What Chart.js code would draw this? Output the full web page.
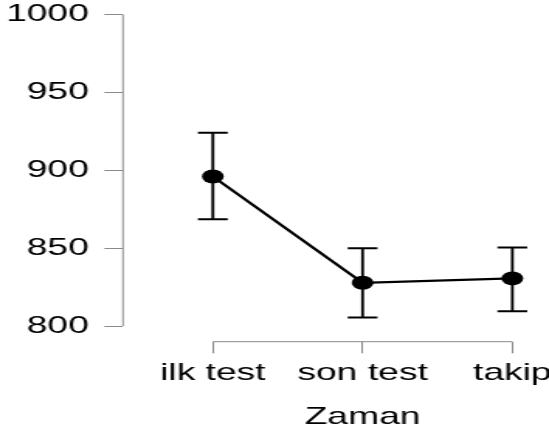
<!DOCTYPE html>
<html>
<head>
<meta charset="utf-8">
<script src="https://cdn.jsdelivr.net/npm/chart.js@4/dist/chart.umd.min.js"></script>
<style>
  html, body { margin: 0; padding: 0; background: #fff; }
</style>
</head>
<body>
<!-- the reference is a horizontally stretched plot: draw narrow, show wide -->
<canvas id="c" width="354" height="436" style="display:block;width:549px;height:436px"></canvas>
<script>
// Veri
const categories = ['ilk test', 'son test', 'takip'];
const means = [896.0, 827.8, 830.6];
const upper = [924.0, 849.9, 850.5];
const lower = [868.5, 805.6, 809.6];
const yTicks = [800, 850, 900, 950, 1000];

const FONT = { family: "'Liberation Sans', Arial, sans-serif", size: 24 };
const AXIS_GREY = '#8a8a8a';
const OVERHANG = 34.3; // the original plot is cropped on the right

// x ekseni tuvalin sag kenarindan tasar, baslik 'son test' altinda ortalanir
const overhang = {
  id: 'overhang',
  afterLayout(chart) {
    const x = chart.scales.x;
    x.right = chart.width + OVERHANG;
    x.width = x.right - x.left;
    x.configure();
  }
};

// R tarzi eksen cizgileri: sadece ilk ve son tick arasinda
const rAxes = {
  id: 'rAxes',
  afterDraw(chart) {
    const { ctx, scales: { x, y } } = chart;
    ctx.save();
    ctx.strokeStyle = AXIS_GREY;
    ctx.lineWidth = 1;
    ctx.beginPath();
    ctx.moveTo(y.right, y.getPixelForValue(yTicks[0]));
    ctx.lineTo(y.right, y.getPixelForValue(yTicks[yTicks.length - 1]));
    ctx.moveTo(x.getPixelForValue(0), x.top);
    ctx.lineTo(x.getPixelForValue(categories.length - 1), x.top);
    ctx.stroke();
    ctx.restore();
  }
};

// hata cubuklari: her kategori icin iki noktali dikey cizgi, uclar 'line' noktasi
const errorSets = categories.map((c, i) => ({
  data: [{ x: i, y: lower[i] }, { x: i, y: upper[i] }],
  borderColor: '#000',
  borderWidth: 1.8,
  pointStyle: 'line',
  pointRadius: 9.6,
  pointBorderWidth: 2,
  pointBorderColor: '#000',
  showLine: true
}));

new Chart(document.getElementById('c').getContext('2d'), {
  type: 'scatter',
  data: {
    datasets: [
      {
        data: means.map((m, i) => ({ x: i, y: m })),
        borderColor: '#000',
        borderWidth: 2.2,
        showLine: true,
        pointRadius: 7,
        pointBackgroundColor: '#000',
        pointBorderColor: '#000',
        pointBorderWidth: 0
      },
      ...errorSets
    ]
  },
  options: {
    responsive: false,
    animation: false,
    events: [],
    layout: { autoPadding: false, padding: { top: 14.3, left: 0, right: 0, bottom: 0 } },
    plugins: { legend: { display: false }, tooltip: { enabled: false } },
    scales: {
      x: {
        type: 'linear',
        min: -0.6,
        max: 2.6,
        afterBuildTicks: s => { s.ticks = categories.map((c, i) => ({ value: i })); },
        afterFit: s => { s.height = 94.3; s.paddingLeft = 0; s.paddingRight = 0; },
        border: { display: false },
        grid: { drawOnChartArea: false, tickLength: 11.6, color: AXIS_GREY, lineWidth: 1 },
        ticks: {
          autoSkip: false,
          maxRotation: 0,
          padding: 6,
          color: '#000',
          font: FONT,
          callback: v => categories[v]
        },
        title: { display: true, text: 'Zaman', color: '#000', font: FONT, padding: { top: 0, bottom: 4.3 } }
      },
      y: {
        min: 790,
        max: 1000,
        afterBuildTicks: s => { s.ticks = yTicks.map(v => ({ value: v })); },
        afterFit: s => { s.width = 79.3; s.paddingTop = 0; s.paddingBottom = 0; },
        border: { display: false },
        grid: { drawOnChartArea: false, tickLength: 12, color: AXIS_GREY, lineWidth: 1 },
        ticks: { padding: 10, color: '#000', font: FONT, callback: v => String(v) }
      }
    }
  },
  plugins: [overhang, rAxes]
});
</script>
</body>
</html>
